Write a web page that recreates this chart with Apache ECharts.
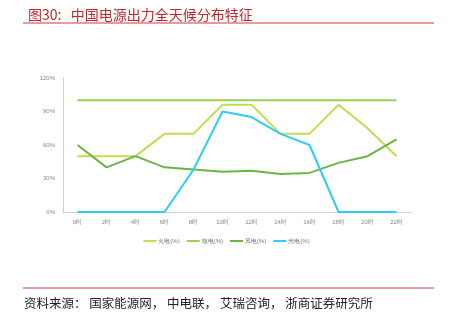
<!DOCTYPE html>
<html>
<head>
<meta charset="utf-8">
<script src="https://cdn.jsdelivr.net/npm/echarts@6/dist/echarts.min.js"></script>
<style>
html,body{margin:0;padding:0;background:#fff;}
#chart{width:453px;height:323px;}
</style>
</head>
<body>
<div id="chart"></div>
<script>
// 数据
var hours = ['0时','2时','4时','6时','8时','10时','12时','14时','16时','18时','20时','22时']
var thermal = [50,50,50,70,70,96,96,70,70,96,75,50]
var nuclear = [100,100,100,100,100,100,100,100,100,100,100,100]
var wind = [60,40,50,40,38,36,37,34,35,44,50,65]
var solar = [0,0,0,0,38,90,85,70,60,0,0,0]

var names = ['火电(%)','核电(%)','风电(%)','光电(%)']
var colors = ['#c4dc52','#9dd04f','#6db543','#2fcdf4']

var chart = echarts.init(document.getElementById('chart'))

function line(name, data, color){
    return {
        name: name,
        type: 'line',
        data: data,
        symbol: 'none',
        lineStyle: {width: 2, color: color},
        itemStyle: {color: color}
    }
}

chart.setOption({
    animation: false,
    title: {
        text: '图30:   中国电源出力全天候分布特征',
        left: 23,
        top: 3,
        textStyle: {
            color: '#c0282d',
            fontSize: 14,
            fontWeight: 'normal',
            fontFamily: 'Noto Sans CJK SC'
        }
    },
    graphic: [
        {type: 'line', shape: {x1: 23, y1: 23, x2: 434, y2: 23}, style: {stroke: '#d2393a', lineWidth: 1}},
        {type: 'line', shape: {x1: 23, y1: 288, x2: 434, y2: 288}, style: {stroke: '#d2393a', lineWidth: 1}},
        {
            type: 'text', left: 24, top: 297,
            style: {
                text: '资料来源： 国家能源网， 中电联， 艾瑞咨询， 浙商证券研究所',
                fill: '#222', fontSize: 12.5, fontFamily: 'Noto Sans CJK SC'
            }
        }
    ],
    legend: {
        data: names,
        top: 233,
        left: 'center',
        itemWidth: 13,
        itemHeight: 2,
        itemGap: 7,
        icon: 'rect',
        textStyle: {fontSize: 6, color: '#777', padding: [0, 0, 0, -3]}
    },
    grid: {
        left: 63,
        right: 42,
        top: 78,
        height: 134,
        containLabel: false
    },
    xAxis: {
        type: 'category',
        boundaryGap: true,
        data: hours,
        axisLine: {lineStyle: {color: '#d0d0d0'}},
        axisTick: {show: false},
        axisLabel: {fontSize: 6, color: '#888', margin: 7}
    },
    yAxis: {
        type: 'value',
        min: 0,
        max: 120,
        interval: 30,
        axisLine: {show: true, lineStyle: {color: '#d0d0d0'}},
        axisTick: {show: false},
        splitLine: {show: false},
        axisLabel: {formatter: '{value}%', fontSize: 6, color: '#888', margin: 8}
    },
    series: [
        line(names[0], thermal, colors[0]),
        line(names[1], nuclear, colors[1]),
        line(names[2], wind, colors[2]),
        line(names[3], solar, colors[3])
    ]
})
</script>
</body>
</html>
